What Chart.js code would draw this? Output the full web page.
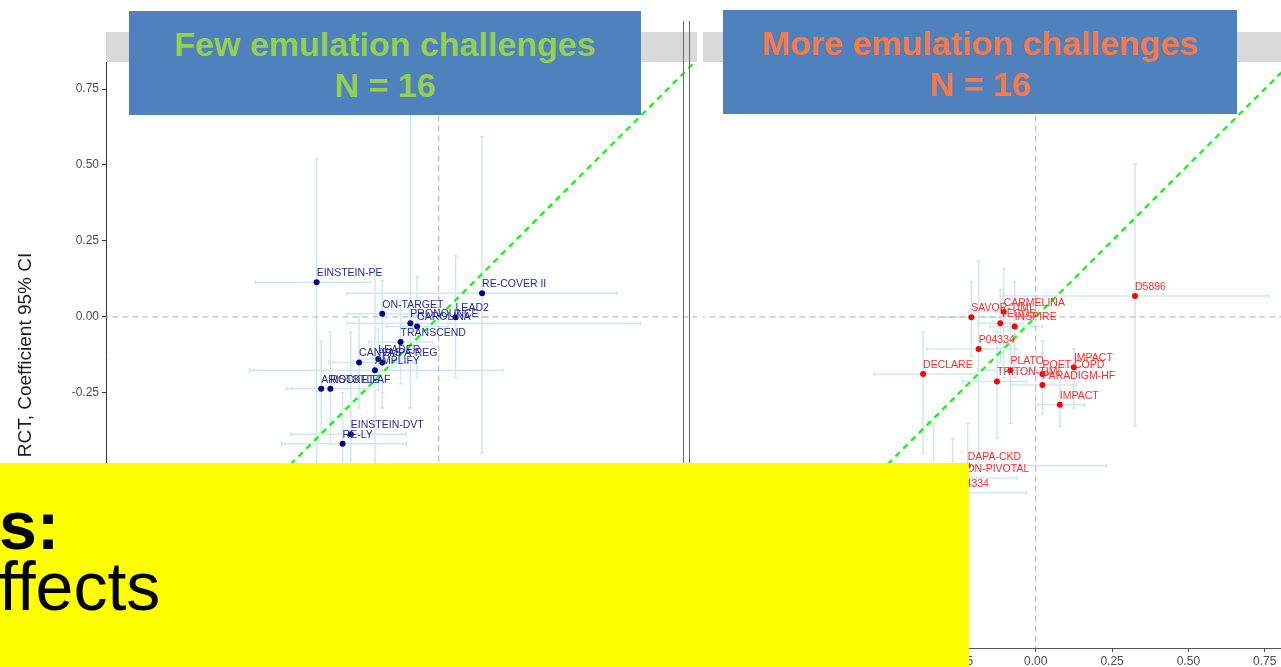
<!DOCTYPE html>
<html>
<head>
<meta charset="utf-8">
<script src="https://cdn.jsdelivr.net/npm/chart.js@4/dist/chart.umd.min.js"></script>
<style>
  body { margin: 0; width: 1281px; height: 667px; overflow: hidden; position: relative; background: #fff; font-family: 'Liberation Sans', Arial, sans-serif; }
  .panel { position: absolute; top: 0; height: 667px; }
  .sep { position: absolute; top: 21px; width: 1px; height: 646px; background: #6a6a6a; }
  .banner { position: absolute; background: #4F81BD; text-align: center; font-weight: bold; font-size: 34px; line-height: 41px; box-sizing: border-box; padding-top: 13px; }
  .yellow { position: absolute; left: 0; top: 463px; width: 969px; height: 204px; background: #FFFF00; overflow: hidden; }
  .yellow div { position: absolute; left: -1px; font-size: 68px; line-height: 68px; color: #000; white-space: nowrap; }
</style>
</head>
<body>
<div class="panel" style="left:0; width:697px;"><canvas id="leftChart" width="697" height="667"></canvas></div>
<div class="panel" style="left:703px; width:591px;"><canvas id="rightChart" width="591" height="667"></canvas></div>
<div class="sep" style="left:683px;"></div>
<div class="sep" style="left:689px;"></div>
<div class="banner" style="left:129px; top:11px; width:512px; height:104px; color:#92D050;">Few emulation challenges<br>N = 16</div>
<div class="banner" style="left:723px; top:10px; width:514px; height:104px; color:#F4794B;">More emulation challenges<br>N = 16</div>
<div class="yellow">
  <div style="top:28px; font-weight:bold;">s:</div>
  <div style="top:89px;">ffects</div>
</div>
<script>
// axis limits and ticks
const axisMin = -1.09;
const xMax = 0.846;
const yMax = 0.839;
const axisTicks = [-1.0, -0.75, -0.5, -0.25, 0, 0.25, 0.5, 0.75];
const identityLine = [-1.2, 1.0];

// few emulation challenges (x = emulation, y = RCT)
const leftNames = ['EINSTEIN-PE', 'RE-COVER II', 'ON-TARGET', 'LEAD2', 'PRONOUNCE', 'CAROLINA', 'TRANSCEND', 'LEADER', 'EMPA-REG', 'CANVAS', 'AMPLIFY', 'ARISTOTLE', 'ROCKET-AF', 'EINSTEIN-DVT', 'RE-LY'];
const leftX   = [-0.400, 0.142, -0.185, 0.055, -0.093, -0.071, -0.125, -0.198, -0.185, -0.261, -0.209, -0.385, -0.355, -0.288, -0.315];
const leftY   = [0.114, 0.078, 0.010, -0.001, -0.021, -0.032, -0.083, -0.139, -0.150, -0.150, -0.176, -0.237, -0.237, -0.386, -0.418];
const leftXLo = [-0.601, -0.300, -0.300, -0.050, -0.300, -0.170, -0.230, -0.260, -0.280, -0.360, -0.620, -0.500, -0.480, -0.483, -0.515];
const leftXHi = [-0.224, 0.584, -0.060, 0.160, 0.660, 0.030, -0.020, -0.130, -0.080, -0.150, 0.210, -0.260, -0.230, -0.106, -0.106];
const leftYLo = [-0.600, -0.447, -0.250, -0.200, -0.300, -0.200, -0.220, -0.240, -0.300, -0.300, -0.550, -0.380, -0.420, -0.700, -0.580];
const leftYHi = [0.520, 0.593, 0.120, 0.200, 0.950, 0.133, 0.050, -0.040, 0.000, 0.000, 0.169, -0.080, -0.050, -0.050, -0.250];

// more emulation challenges
const rightNames = ['SAVOR-TIMI', 'CARMELINA', 'TECOS', 'INSPIRE', 'P04334', 'DECLARE', 'PLATO', 'TRITON-TIMI', 'POET-COPD', 'PARADIGM-HF', 'IMPACT', 'IMPACT', 'D5896', 'DAPA-CKD', 'HORIZON-PIVOTAL', 'P04334'];
const rightX   = [-0.211, -0.105, -0.116, -0.069, -0.187, -0.369, -0.083, -0.127, 0.022, 0.022, 0.125, 0.079, 0.325, -0.223, -0.334, -0.272];
const rightY   = [-0.001, 0.017, -0.021, -0.032, -0.106, -0.188, -0.176, -0.213, -0.188, -0.224, -0.166, -0.289, 0.069, -0.490, -0.530, -0.579];
const rightXLo = [-0.320, -0.220, -0.190, -0.150, -0.357, -0.530, -0.190, -0.240, -0.060, -0.080, 0.060, 0.000, -0.108, -0.450, -0.500, -0.450];
const rightXHi = [-0.100, 0.010, -0.040, 0.020, -0.060, -0.200, 0.040, -0.030, 0.120, 0.134, 0.190, 0.160, 0.764, 0.230, -0.062, -0.030];
const rightYLo = [-0.130, -0.200, -0.150, -0.200, -0.500, -0.450, -0.350, -0.400, -0.300, -0.320, -0.300, -0.360, -0.359, -0.600, -0.700, -0.750];
const rightYHi = [0.116, 0.158, 0.089, 0.116, 0.184, -0.050, -0.020, -0.050, -0.080, -0.120, -0.105, -0.200, 0.503, -0.350, -0.350, -0.400];

const FONT = "'Liberation Sans', Arial, sans-serif";

function panelPlugin(p) {
  return {
    id: 'panel',
    beforeDraw(chart) {
      const { ctx, chartArea } = chart;
      ctx.save();
      ctx.fillStyle = '#D9D9D9';
      ctx.fillRect(chartArea.left, 32, chartArea.right - chartArea.left, 30);
      ctx.restore();
    },
    beforeDatasetsDraw(chart) {
      // error bars, drawn under the points
      const { ctx, chartArea, scales: { x, y } } = chart;
      ctx.save();
      ctx.beginPath();
      ctx.rect(chartArea.left, chartArea.top, chartArea.right - chartArea.left, chartArea.bottom - chartArea.top);
      ctx.clip();
      ctx.strokeStyle = 'rgba(173, 216, 230, 0.6)';
      ctx.lineWidth = 1.5;
      ctx.beginPath();
      p.x.forEach((xv, i) => {
        const px = x.getPixelForValue(xv);
        const py = y.getPixelForValue(p.y[i]);
        const x0 = x.getPixelForValue(p.xlo[i]), x1 = x.getPixelForValue(p.xhi[i]);
        const y0 = y.getPixelForValue(p.ylo[i]), y1 = y.getPixelForValue(p.yhi[i]);
        ctx.moveTo(x0, py); ctx.lineTo(x1, py);
        ctx.moveTo(x0, py - 2); ctx.lineTo(x0, py + 2);
        ctx.moveTo(x1, py - 2); ctx.lineTo(x1, py + 2);
        ctx.moveTo(px, y0); ctx.lineTo(px, y1);
        ctx.moveTo(px - 2, y0); ctx.lineTo(px + 2, y0);
        ctx.moveTo(px - 2, y1); ctx.lineTo(px + 2, y1);
      });
      ctx.stroke();
      ctx.restore();
    },
    afterDatasetsDraw(chart) {
      const { ctx, chartArea, scales: { x, y } } = chart;
      ctx.save();
      ctx.beginPath();
      ctx.rect(chartArea.left, chartArea.top, chartArea.right - chartArea.left, chartArea.bottom - chartArea.top);
      ctx.clip();
      ctx.font = '10.5px ' + FONT;
      ctx.fillStyle = p.labelColor;
      ctx.textAlign = 'left';
      ctx.textBaseline = 'middle';
      p.names.forEach((n, i) => {
        ctx.fillText(n, x.getPixelForValue(p.x[i]), y.getPixelForValue(p.y[i]) - 9);
      });
      ctx.restore();
    }
  };
}

function makePanel(id, p, showY) {
  const gray = '#BEBEBE';
  return new Chart(document.getElementById(id), {
    type: 'scatter',
    data: {
      datasets: [
        {
          data: p.x.map((v, i) => ({ x: v, y: p.y[i] })),
          backgroundColor: p.pointColor,
          borderColor: p.pointColor,
          pointRadius: 3,
          borderWidth: 0
        },
        {
          data: identityLine.map(v => ({ x: v, y: v })),
          showLine: true,
          borderColor: '#00FF00',
          borderWidth: 2.2,
          borderDash: [6, 5],
          pointRadius: 0
        },
        {
          data: identityLine.map(v => ({ x: v, y: 0 })),
          showLine: true,
          borderColor: gray,
          borderWidth: 1.2,
          borderDash: [6, 4],
          pointRadius: 0
        },
        {
          data: identityLine.map(v => ({ x: 0, y: v })),
          showLine: true,
          borderColor: gray,
          borderWidth: 1.2,
          borderDash: [6, 4],
          pointRadius: 0
        }
      ]
    },
    options: {
      responsive: false,
      animation: false,
      layout: { autoPadding: false, padding: { top: 62, left: 0, right: 0, bottom: 0 } },
      plugins: { legend: { display: false }, tooltip: { enabled: false } },
      scales: {
        x: {
          type: 'linear',
          min: axisMin,
          max: xMax,
          afterBuildTicks: s => { s.ticks = axisTicks.map(v => ({ value: v })); },
          afterFit: s => { s.height = 19; s.paddingLeft = 0; s.paddingRight = 0; },
          grid: { drawOnChartArea: false, drawTicks: true, tickLength: 4, color: '#555' },
          border: { display: true, color: '#555', width: 1 },
          ticks: { padding: 2, color: '#4D4D4D', font: { family: FONT, size: 12 }, maxRotation: 0, callback: v => v.toFixed(2) }
        },
        y: {
          type: 'linear',
          display: showY,
          min: axisMin,
          max: yMax,
          afterBuildTicks: s => { s.ticks = axisTicks.map(v => ({ value: v })); },
          afterFit: s => { if (showY) s.width = 106; s.paddingTop = 0; s.paddingBottom = 0; },
          grid: { drawOnChartArea: false, drawTicks: true, tickLength: 4, color: '#333' },
          border: { display: true, color: '#333', width: 1 },
          ticks: { padding: 3, color: '#4D4D4D', font: { family: FONT, size: 12 }, callback: v => v.toFixed(2) },
          title: { display: true, text: 'RCT, Coefficient 95% CI', color: '#1a1a1a', font: { family: FONT, size: 19 }, padding: { top: 14, bottom: 0 } }
        }
      }
    },
    plugins: [panelPlugin(p)]
  });
}

makePanel('leftChart', {
  names: leftNames, x: leftX, y: leftY, xlo: leftXLo, xhi: leftXHi, ylo: leftYLo, yhi: leftYHi,
  pointColor: '#00008B', labelColor: '#2A2A96'
}, true);

makePanel('rightChart', {
  names: rightNames, x: rightX, y: rightY, xlo: rightXLo, xhi: rightXHi, ylo: rightYLo, yhi: rightYHi,
  pointColor: '#FF0000', labelColor: '#FF2A2A'
}, false);
</script>
</body>
</html>
